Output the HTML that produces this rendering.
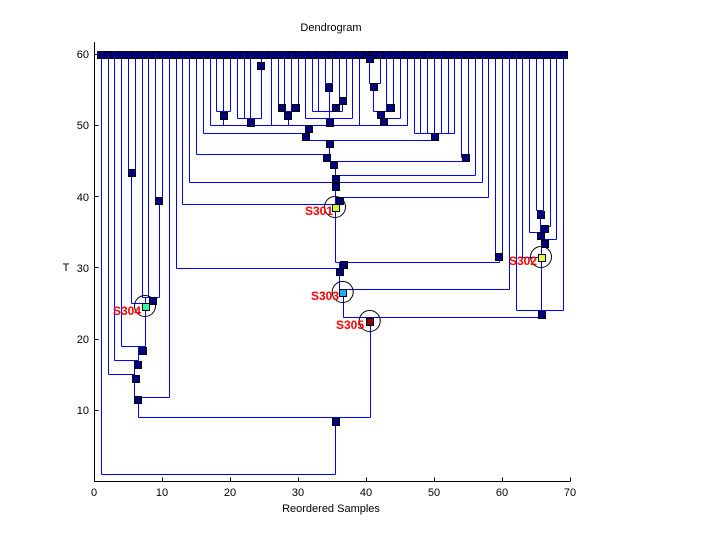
<!DOCTYPE html>
<html><head><meta charset="utf-8"><style>
html,body{margin:0;padding:0;background:#fff;}
svg{display:block;font-family:"Liberation Sans",sans-serif;}
</style></head><body>
<svg id="s" width="720" height="540" viewBox="0 0 720 540" xmlns="http://www.w3.org/2000/svg">
<rect width="720" height="540" fill="#fff"/>
<g id="lines" stroke="#0000ff" stroke-width="1" fill="none" shape-rendering="crispEdges"></g>
<g id="circ" stroke="#000" stroke-width="1" fill="none"></g>
<g id="nodes" stroke="#000" stroke-width="1" shape-rendering="crispEdges"></g>
<g stroke="#000" stroke-width="1" shape-rendering="crispEdges">
<line x1="94.5" y1="42" x2="94.5" y2="481.5"/>
<line x1="94" y1="481.5" x2="570" y2="481.5"/>
</g>
<g id="ticks" stroke="#000" stroke-width="1" shape-rendering="crispEdges"></g>
<g font-size="11" fill="#000" text-anchor="middle">
<text x="94" y="496">0</text><text x="162" y="496">10</text><text x="230" y="496">20</text><text x="298" y="496">30</text><text x="366" y="496">40</text><text x="434" y="496">50</text><text x="502" y="496">60</text><text x="570" y="496">70</text>
</g>
<g font-size="11" fill="#000" text-anchor="end">
<text x="89" y="414">10</text><text x="89" y="343">20</text><text x="89" y="272">30</text><text x="89" y="201">40</text><text x="89" y="129">50</text><text x="89" y="58">60</text>
</g>
<text x="331" y="31" font-size="11" text-anchor="middle">Dendrogram</text>
<text x="331" y="512" font-size="11" text-anchor="middle">Reordered Samples</text>
<text x="66" y="271" font-size="11" text-anchor="middle">T</text>
<g font-size="12" font-weight="bold" fill="#ff0000" text-anchor="end">
<text x="333" y="215">S301</text>
<text x="537" y="265">S302</text>
<text x="339" y="300">S303</text>
<text x="141" y="315">S304</text>
<text x="364" y="329">S305</text>
</g>
</svg>
<script>
var NS="http://www.w3.org/2000/svg";
function X(i){return 94+6.8*i;}
var L=document.getElementById('lines'),N=document.getElementById('nodes'),C=document.getElementById('circ'),T=document.getElementById('ticks');
function ln(g,x1,y1,x2,y2){var e=document.createElementNS(NS,'line');x1=Math.round(x1)+.5;x2=Math.round(x2)+.5;y1=Math.round(y1)+.5;y2=Math.round(y2)+.5;e.setAttribute('x1',x1);e.setAttribute('y1',y1);e.setAttribute('x2',x2);e.setAttribute('y2',y2);g.appendChild(e);}
function sq(x,y,c){var e=document.createElementNS(NS,'rect');e.setAttribute('x',Math.round(x-3.5)+.5);e.setAttribute('y',Math.round(y-3.5)+.5);e.setAttribute('width',7);e.setAttribute('height',7);e.setAttribute('fill',c||'#000080');N.appendChild(e);}
function ci(x,y){var e=document.createElementNS(NS,'circle');e.setAttribute('cx',x);e.setAttribute('cy',y);e.setAttribute('r',10.5);C.appendChild(e);}
var leafEnd=[474,374,360,346,172,172,297,297,200,200,397,268,204,182,154,133,125,111,111,111,118,118,118,58,58,125,111,111,111,111,118,111,111,83,83,97,97,118,125,58,58,83,111,104,118,125,133,133,133,133,133,133,133,157,157,175,182,197,256,256,289,310,257,232,210,210,226,239,310];
for(var i=1;i<=69;i++){ln(L,X(i),54,X(i),leafEnd[i-1]);}
var H=[[172,128,134.8],[200,155.2,162],[297,141.6,158.6],[303,131.4,145],[346,121.2,145],[360,114.4,138],[374,107.6,134],[397,134,168.8],[417,138,369.7],[474,101,335],
[58,257.2,264],[111,216.4,230],[118,236.8,260.7],[111,277.6,298],[83,325.2,332],[97,338.8,345.6],[111,311.6,342],[118,304.8,352.4],[125,209.6,407],
[58,366,372.8],[83,369.3,379.6],[104,386.4,393.2],[111,373.3,390],[118,380,400],
[133,202.8,308],[140,305,434.7],[133,413.6,454.4],[154,196,329],[157,461.2,468],[161,333,465],[175,335,474.8],[182,189.2,481.6],[197,335,488.4],[204,182.4,335],
[256,495.2,502],[262,335,498.6],[268,175.6,339],[289,342,508.8],[317,342.7,541],
[210,536,542.8],[232,529.2,540],[226,540,549.6],[239,544.3,556.4],[257,522.4,541],[310,515.6,563.2]];
H.forEach(function(h){ln(L,h[1],h[0],h[2],h[0]);});
var V=[[131.4,172,303],[158.6,200,297],[145,297,346],[138,346,360],[134,360,397],[138,397,417],[335,417,474],[369.7,317,417],
[260.7,58,118],[223,111,125],[250.7,118,125],[287.7,111,125],[328.7,83,111],[342,97,111],[329,111,125],[369.3,58,83],[373.3,83,111],[390,104,111],[380,111,118],[383,118,125],
[308,125,133],[305,133,140],[434,133,140],[329,140,154],[330,154,161],[465,157,161],[335,161,262],[498.6,256,262],[339,262,289],[342.7,289,317],
[540,210,232],[544.3,226,243],[541,239,310],[541,310,317]];
V.forEach(function(v){ln(L,v[0],v[1],v[0],v[2]);});
for(i=1;i<=69;i++)sq(X(i),54);
[[131,172],[158,200],[152,300],[142,350],[137,364],[135,378],[137,399],[335,421],
[260.7,65],[223,115],[250.7,122],[281,107],[295,107],[287.7,115],[328.7,87],[342.2,100],[335.7,107],[329,122],[369.3,58],[373.3,86],[390,107],[380,114],[383,121],
[308,128],[305,136],[434,136],[329,143],[326,157],[465,157],[333,164],[335,178],[335,186],[339,200],
[498.6,256],[343,264],[339,271],[541,314],[540,214],[540,235],[544.3,228],[544.3,243]].forEach(function(p){sq(p[0],p[1]);});
[[335,207],[541,257],[342.7,292],[145,306],[369.7,321]].forEach(function(p){ci(p[0],p[1]);});
sq(335,207,'#ccff33');sq(541,257,'#ddff44');sq(342.7,292,'#22aaff');sq(145,306,'#33ffaa');sq(369.7,321,'#880000');
for(i=0;i<=70;i+=10){ln(T,X(i),481,X(i),477);}
for(i=10;i<=60;i+=10){var y=481-7.12*i;ln(T,94,y,98,y);}
</script>
</body></html>
